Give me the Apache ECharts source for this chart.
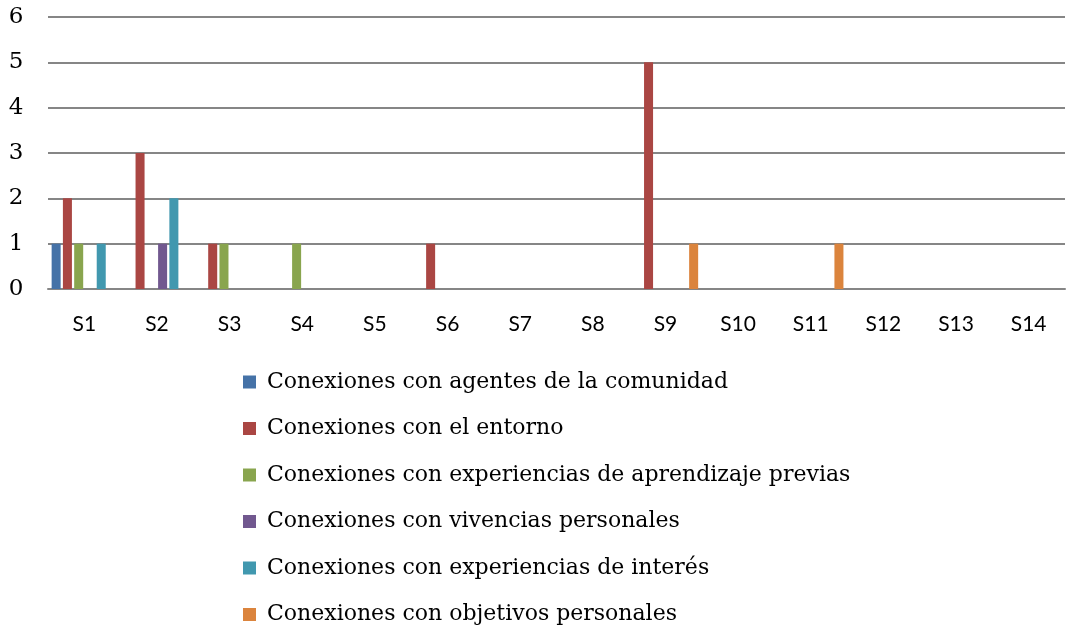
<!DOCTYPE html>
<html>
<head>
<meta charset="utf-8">
<script src="https://cdn.jsdelivr.net/npm/echarts@6/dist/echarts.min.js"></script>
<style>
  html, body { margin: 0; padding: 0; background: #fff; }
  #chart { width: 1068px; height: 627px; }
</style>
</head>
<body>
<div id="chart"></div>
<script>
const categories = ['S1', 'S2', 'S3', 'S4', 'S5', 'S6', 'S7', 'S8', 'S9', 'S10', 'S11', 'S12', 'S13', 'S14'];

const seriesNames = [
  'Conexiones con agentes de la comunidad',
  'Conexiones con el entorno',
  'Conexiones con experiencias de aprendizaje previas',
  'Conexiones con vivencias personales',
  'Conexiones con experiencias de interés',
  'Conexiones con objetivos personales'
];

const agentes    = [1, 0, 0, 0, 0, 0, 0, 0, 0, 0, 0, 0, 0, 0];
const entorno    = [2, 3, 1, 0, 0, 1, 0, 0, 5, 0, 0, 0, 0, 0];
const previas    = [1, 0, 1, 1, 0, 0, 0, 0, 0, 0, 0, 0, 0, 0];
const vivencias  = [0, 1, 0, 0, 0, 0, 0, 0, 0, 0, 0, 0, 0, 0];
const interes    = [1, 2, 0, 0, 0, 0, 0, 0, 0, 0, 0, 0, 0, 0];
const objetivos  = [0, 0, 0, 0, 0, 0, 0, 0, 1, 0, 1, 0, 0, 0];

const seriesData = [agentes, entorno, previas, vivencias, interes, objetivos];
const colors = ['#4572A7', '#AA4643', '#89A54E', '#71588F', '#4198AF', '#DB843D'];

const chart = echarts.init(document.getElementById('chart'));

chart.setOption({
  animation: false,
  color: colors,
  grid: {
    left: 48,
    right: 3,
    top: 17,
    height: 272,
    containLabel: false
  },
  legend: {
    orient: 'vertical',
    left: 243,
    top: 370,
    height: 300,
    padding: 0,
    itemWidth: 13,
    itemHeight: 13,
    itemGap: 22.5,
    icon: 'rect',
    data: seriesNames,
    textStyle: {
      fontFamily: 'DejaVu Serif',
      fontSize: 22,
      lineHeight: 24,
      color: '#000',
      padding: [0, 0, 0, 6]
    }
  },
  xAxis: {
    type: 'category',
    data: categories,
    axisLine: { lineStyle: { color: '#868686', width: 2 } },
    axisTick: { show: false },
    axisLabel: {
      fontFamily: 'Lato',
      fontSize: 21,
      color: '#000',
      margin: 25
    }
  },
  yAxis: {
    type: 'value',
    min: 0,
    max: 6,
    interval: 1,
    axisLine: { show: false },
    axisTick: { show: false },
    splitLine: { lineStyle: { color: '#868686', width: 2 } },
    axisLabel: {
      fontFamily: 'DejaVu Serif',
      fontSize: 23,
      color: '#000',
      margin: 32,
      align: 'center'
    }
  },
  series: seriesNames.map((name, i) => ({
    name,
    type: 'bar',
    data: seriesData[i],
    barGap: '25%',
    barCategoryGap: '10%'
  }))
});
</script>
</body>
</html>
